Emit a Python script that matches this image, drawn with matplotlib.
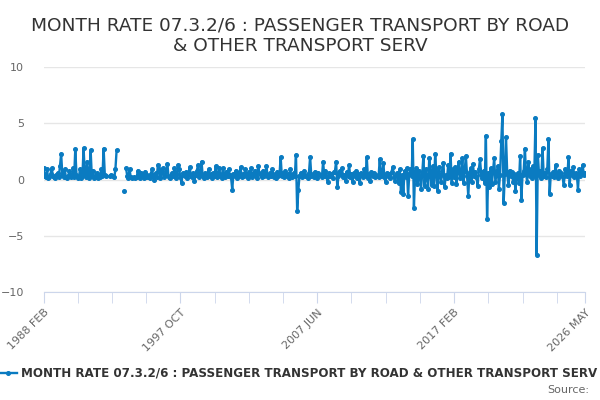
import matplotlib
matplotlib.use("Agg")
import matplotlib.pyplot as plt
import numpy as np
import pandas as pd

nan = np.nan

# monthly rate, Feb 1988 .. May 2026
rate = [
    1.0, 0.3, 0.2, 0.9, 0.1, 0.2, 0.5, 1.0, 0.3, 0.2, 0.1, 0.4,
    0.6, 0.2, 1.2, 2.3, 0.4, 0.2, 0.9, 0.2, 0.1, 0.3, 0.8, 0.2,
    0.3, 1.0, 0.2, 2.7, 0.4, 0.1, 0.2, 0.9, 0.1, 0.3, 2.8, 0.5,
    0.2, 1.6, 0.3, 0.1, 2.6, 0.3, 0.8, 0.1, 0.2, 0.6, 0.1, 0.3,
    0.2, 0.9, 0.3, 2.75, 0.4, 0.3, nan, nan, 0.3, 0.4, nan, 0.3,
    0.2, 0.9, 2.6, nan, nan, nan, nan, nan, -1.0, nan, 1.0, 0.3,
    0.1, 0.9, 0.2, 0.1, nan, 0.2, 0.1, 0.2, 0.8, 0.4, 0.1, 0.6,
    0.3, 0.1, 0.7, 0.2, 0.4, 0.2, 0.1, 0.5, 0.9, 0.3, 0.0, 0.6,
    0.2, 1.3, 0.9, 0.1, 0.6, 1.0, 0.2, 0.4, 0.8, 1.4, 0.2, 0.1,
    0.4, 0.6, 0.3, 1.0, 0.1, 0.5, 1.3, 0.9, 0.2, -0.3, 0.6, 0.4,
    0.3, 0.7, 0.1, 0.5, 1.1, 0.3, 0.2, 0.6, -0.1, 0.4, 0.8, 1.3,
    0.2, 0.5, 1.6, 0.3, 0.1, 0.6, 0.4, 0.2, 0.9, 0.3, 0.5, 0.1,
    0.6, 0.3, 1.2, 0.2, 0.5, 1.0, 0.3, 0.1, 1.0, 0.4, 0.2, 0.7,
    0.3, 0.9, 0.4, 0.2, -0.9, 0.5, 0.3, 0.8, 0.1, 0.6, 0.3, 1.1,
    0.2, 0.5, 0.3, 0.9, 0.4, 0.1, 0.7, 0.3, 1.0, 0.2, 0.5, 0.8,
    0.3, 0.1, 1.2, 0.6, 0.4, 0.2, 0.8, 0.3, 0.5, 1.2, 0.2, 0.4,
    0.6, 0.3, 0.9, 0.2, 0.5, 0.1, 0.7, 0.3, 0.4, 2.0, 0.3, 0.6,
    0.2, 0.8, 0.3, 0.5, 0.1, 0.9, 0.4, 0.2, 0.6, 0.3, 2.2, -2.8,
    -0.9, 0.3, 0.6, 0.2, 0.5, 0.8, 0.3, 0.4, 0.1, 0.6, 2.0, 0.3,
    0.5, 0.2, 0.7, 0.3, 0.1, 0.6, 0.4, 0.4, 0.2, 1.6, 0.3, 0.8,
    0.2, -0.2, 0.6, 0.3, 0.5, 0.1, 0.7, 0.7, 1.6, -0.7, 0.3, 0.8,
    0.5, 1.0, 0.2, 0.4, -0.1, 0.7, 0.3, 1.3, 0.2, 0.5, -0.2, 0.6,
    0.3, 0.8, 0.1, 0.5, -0.3, 0.6, 0.4, 0.2, 0.9, 0.3, 2.0, 0.1,
    0.5, -0.1, 0.7, 0.3, 0.6, 0.2, 0.4, 0.3, 0.2, 1.8, 0.3, 0.4,
    1.5, 0.2, -0.2, 0.6, 0.3, 0.5, 0.1, 0.7, 1.1, 0.2, -0.1, 0.4,
    0.6, -0.3, 0.9, -1.1, 0.4, -1.3, 0.8, 0.2, 1.0, -1.5, 0.5, 0.9,
    0.3, 3.6, -2.5, 0.6, 1.0, -0.4, 0.8, 0.2, -0.8, 0.5, 2.1, -0.6,
    0.9, 0.2, -0.8, 1.9, 0.4, -0.5, 1.2, -0.6, 2.3, 0.5, -1.0, 1.1,
    0.3, -0.2, 0.8, 1.5, -0.65, 0.4, 0.1, 1.3, 0.2, 2.3, -0.3, 0.9,
    0.2, 1.1, -0.4, 0.7, 1.6, 0.1, 0.5, 1.9, -0.3, 0.8, 2.1, 0.3,
    -1.5, 0.6, 1.0, -0.2, 1.4, 0.3, 0.7, 0.2, -0.6, 0.9, 1.8, 0.4,
    0.1, 0.8, -0.3, 3.9, -3.5, 0.6, -0.7, 1.0, -0.4, 0.7, 1.9, -0.2,
    0.5, 1.2, -0.8, 0.4, 3.4, 5.8, -2.1, 0.5, 3.8, 0.6, -0.5, 0.8,
    0.3, 0.7, -0.2, 0.5, -1.0, 0.2, 0.6, -0.3, 2.1, -1.8, 0.4, 0.8,
    2.75, 0.5, -0.2, 1.6, 0.3, 0.9, 0.1, 1.2, 0.4, 5.5, -6.7, 2.2,
    0.4, 0.8, 0.1, 2.8, 0.3, 0.6, 0.2, 0.9, 3.6, -1.3, 0.5, 0.3,
    0.7, 0.2, 1.3, 0.5, 0.1, 0.8, 0.4, 0.6, 0.2, -0.45, 0.9, 0.5,
    0.3, 2.0, -0.45, 0.8, 0.4, 1.1, 0.2, 0.6, 0.5, -0.9, 0.9, 0.3,
    0.7, 1.3, 0.4, 0.6,
]
months = pd.date_range("1988-02-01", periods=len(rate), freq="MS")

tick_labels = ["1988 FEB", "1997 OCT", "2007 JUN", "2017 FEB", "2026 MAY"]
series_name = "MONTH RATE 07.3.2/6 : PASSENGER TRANSPORT BY ROAD & OTHER TRANSPORT SERV"

fig = plt.figure(figsize=(6, 4), dpi=100)
ax = fig.add_axes([0.0725, 0.27, 0.9025, 0.5625])

ax.plot(months, rate, color="#0a7bc1", lw=1.7, marker="o", ms=2.6, zorder=3)

ax.set_ylim(-10, 10)
ax.set_yticks([-10, -5, 0, 5, 10])
ax.set_xlim(months[0], months[-1])
ax.grid(axis="y", color="#e6e6e6", lw=1)
ax.set_axisbelow(True)
for s in ["top", "right", "left"]:
    ax.spines[s].set_visible(False)
ax.spines["bottom"].set_color("#ccd6eb")

# minor ticks every 29 months, labels on every 4th one plus the last month
minor = [months[i] for i in range(0, len(rate), 29)]
ax.set_xticks(minor, minor=True)
ax.set_xticks([months[0], months[116], months[232], months[348], months[-1]])
ax.set_xticklabels(tick_labels, rotation=45, ha="right", rotation_mode="anchor")
ax.tick_params(axis="x", which="both", length=8, color="#ccd6eb", labelsize=8,
               labelcolor="#666666", pad=3)
ax.tick_params(axis="y", length=0, labelsize=8, labelcolor="#666666", pad=14)

fig.text(0.5, 0.96, "MONTH RATE 07.3.2/6 : PASSENGER TRANSPORT BY ROAD\n& OTHER TRANSPORT SERV",
         ha="center", va="top", fontsize=13.3, color="#333333", linespacing=1.2)

fig.lines.append(plt.Line2D([0.0, 0.028], [0.0675, 0.0675], transform=fig.transFigure,
                            color="#0a7bc1", lw=1.7))
fig.lines.append(plt.Line2D([0.014], [0.0675], transform=fig.transFigure,
                            color="#0a7bc1", marker="o", ms=2.6))
fig.text(0.035, 0.0675, series_name, ha="left", va="center", fontsize=8.6,
         fontweight="bold", color="#333333")
fig.text(0.982, 0.025, "Source:", ha="right", va="center", fontsize=8, color="#666666")

fig.savefig("out.png", dpi=100)
